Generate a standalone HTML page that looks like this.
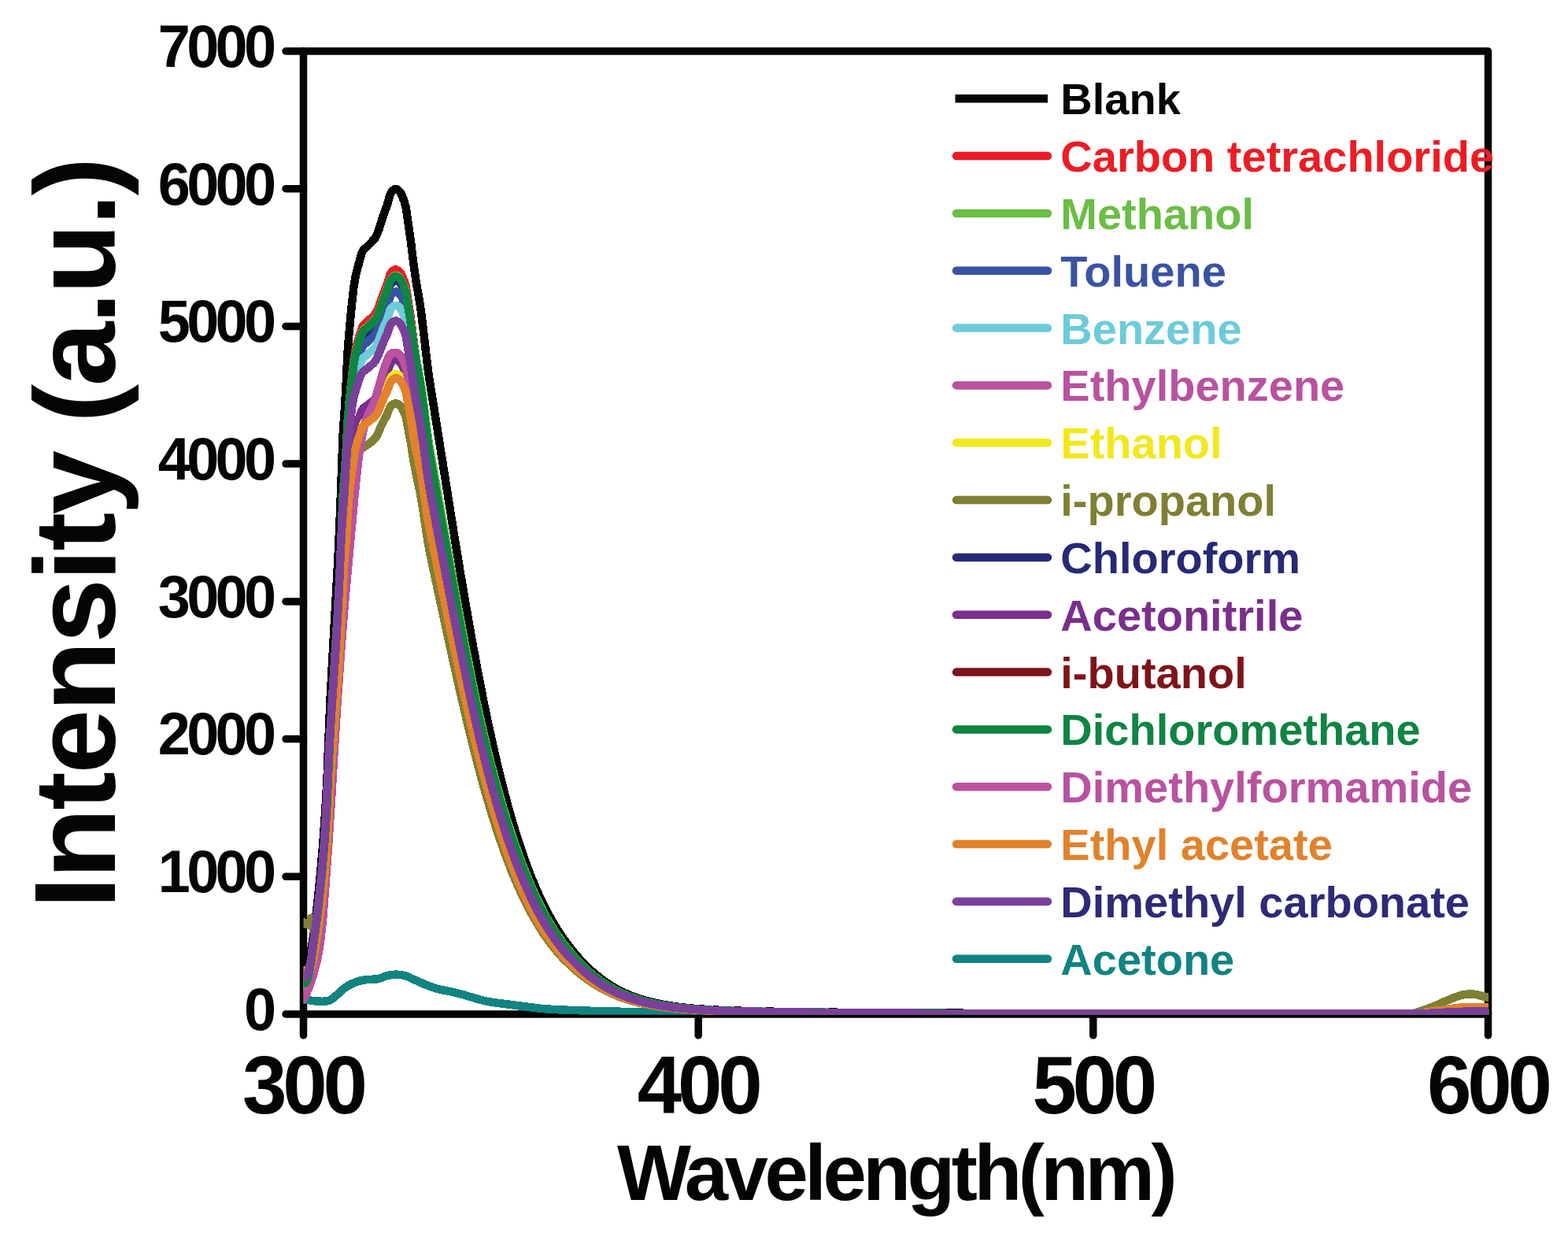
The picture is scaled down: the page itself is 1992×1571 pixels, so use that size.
<!DOCTYPE html>
<html><head><meta charset="utf-8"><title>Intensity vs Wavelength</title><style>
html,body{margin:0;padding:0;background:#fff;}
svg{display:block;}
text{font-family:"Liberation Sans",Arial,sans-serif;font-weight:bold;fill:#050505;}
.yl{font-size:76.5px;text-anchor:end;letter-spacing:-4.85px;}
.xl{font-size:104.5px;text-anchor:middle;letter-spacing:-5.45px;}
.lg{font-size:56px;}
</style></head><body>
<svg width="1992" height="1571" viewBox="0 0 1992 1571">
<rect width="1992" height="1571" fill="#fff"/>
<defs><clipPath id="pc"><rect x="385.5" y="65.0" width="1505.6" height="1223.8"/></clipPath></defs>
<g stroke="#050505" stroke-width="9.5" stroke-linecap="round">
<path d="M385.5,65.0 H1890.5 V1288.0 H385.5 Z" fill="none" stroke-linejoin="round"/>
<line x1="363" y1="1288.0" x2="385.5" y2="1288.0"/>
<line x1="363" y1="1113.3" x2="385.5" y2="1113.3"/>
<line x1="363" y1="938.6" x2="385.5" y2="938.6"/>
<line x1="363" y1="763.9" x2="385.5" y2="763.9"/>
<line x1="363" y1="589.1" x2="385.5" y2="589.1"/>
<line x1="363" y1="414.4" x2="385.5" y2="414.4"/>
<line x1="363" y1="239.7" x2="385.5" y2="239.7"/>
<line x1="363" y1="65.0" x2="385.5" y2="65.0"/>
<line x1="385.5" y1="1288.0" x2="385.5" y2="1315"/>
<line x1="887.2" y1="1288.0" x2="887.2" y2="1315"/>
<line x1="1388.8" y1="1288.0" x2="1388.8" y2="1315"/>
<line x1="1890.5" y1="1288.0" x2="1890.5" y2="1315"/>
</g>
<g clip-path="url(#pc)" shape-rendering="crispEdges" fill="none" stroke-width="10.5" stroke-linejoin="round" stroke-linecap="round">
<path d="M385.5,1256.0L387.5,1247.1 389.5,1237.4 391.5,1226.4 393.5,1215.3 395.5,1205.1 397.5,1193.4 399.5,1178.9 401.5,1162.6 403.5,1144.7 405.5,1125.3 407.5,1104.3 409.5,1081.2 411.5,1055.4 413.5,1026.3 415.5,989.5 417.5,937.0 419.5,889.7 421.5,851.9 423.5,816.3 425.5,780.3 427.5,745.3 429.5,708.1 431.5,663.8 433.5,613.1 435.5,554.0 437.5,525.1 439.5,491.7 441.5,448.6 443.5,423.2 445.5,401.3 447.5,381.4 449.5,363.6 451.5,352.0 453.5,343.8 455.5,336.0 457.5,328.4 459.5,321.7 461.5,317.8 463.5,315.8 465.5,314.0 467.5,312.0 469.5,310.1 471.5,308.0 473.5,305.9 475.5,303.6 477.5,300.7 479.5,296.6 481.5,291.1 483.5,284.4 485.5,278.1 487.5,272.2 489.5,266.7 491.5,261.6 493.5,254.7 495.5,247.3 497.5,243.7 499.5,241.5 501.5,240.3 503.5,240.1 505.5,241.1 507.5,242.9 509.5,245.9 511.5,250.3 513.5,255.8 515.5,262.7 517.5,275.5 519.5,290.3 521.5,303.5 523.5,319.8 525.5,335.7 527.5,350.0 529.5,362.9 531.5,374.1 533.5,386.0 535.5,400.2 537.5,416.1 539.5,433.7 541.5,450.9 543.5,467.5 545.5,481.9 547.5,494.5 549.5,506.7 551.5,519.2 553.5,531.7 555.5,544.2 557.5,556.7 559.5,569.4 560.0,572.5 565.0,604.2 570.0,635.8 575.0,667.1 580.0,698.0 585.0,728.4 590.0,758.1 595.0,787.0 600.0,815.1 605.0,842.4 610.0,868.6 615.0,893.8 620.0,917.9 625.0,940.9 630.0,962.9 635.0,983.8 640.0,1003.6 645.0,1022.4 650.0,1040.1 655.0,1056.8 660.0,1072.5 665.0,1087.3 670.0,1101.1 675.0,1114.0 680.0,1126.1 685.0,1137.4 690.0,1147.9 695.0,1157.7 700.0,1166.9 705.0,1175.5 710.0,1183.4 715.0,1191.1 720.0,1197.8 725.0,1204.3 730.0,1210.5 735.0,1216.4 740.0,1221.9 745.0,1226.9 750.0,1231.7 755.0,1236.1 760.0,1240.2 765.0,1244.1 770.0,1247.7 775.0,1251.0 780.0,1254.0 785.0,1256.8 790.0,1259.4 795.0,1261.7 800.0,1263.8 805.0,1265.8 810.0,1267.6 815.0,1269.2 820.0,1270.7 825.0,1272.0 830.0,1273.2 835.0,1274.3 840.0,1275.3 845.0,1276.2 850.0,1277.1 855.0,1277.8 860.0,1278.5 865.0,1279.1 870.0,1279.7 875.0,1280.2 880.0,1280.7 885.0,1281.1 890.0,1281.4 895.0,1281.8 900.0,1282.1 905.0,1282.4 910.0,1282.6 915.0,1282.9 920.0,1283.1 925.0,1283.2 930.0,1283.4 935.0,1283.6 940.0,1283.7 945.0,1283.9 950.0,1284.0 955.0,1284.1 960.0,1284.2 965.0,1284.4 970.0,1284.5 975.0,1284.6 980.0,1284.7 985.0,1284.8 990.0,1284.9 995.0,1284.9 1100.0,1286.2 1300.0,1287.1 1600.0,1287.4 1891.0,1287.5" stroke="#050505"/>
<path d="M385.5,1253.1L387.5,1253.1 389.5,1250.3 391.5,1244.0 393.5,1234.2 395.5,1221.8 397.5,1205.5 399.5,1193.0 401.5,1178.6 403.5,1162.9 405.5,1145.7 407.5,1127.1 409.5,1106.9 411.5,1084.2 413.5,1058.9 415.5,1028.1 417.5,983.8 419.5,937.9 421.5,902.7 423.5,870.4 425.5,837.9 427.5,806.2 429.5,773.5 431.5,735.5 433.5,690.8 435.5,638.1 437.5,605.3 439.5,578.7 441.5,540.2 443.5,512.2 445.5,492.9 447.5,474.0 449.5,457.3 451.5,445.1 453.5,437.6 455.5,430.4 457.5,423.4 459.5,417.2 461.5,413.0 463.5,411.0 465.5,409.4 467.5,407.6 469.5,405.8 471.5,404.0 473.5,402.0 475.5,400.0 477.5,397.4 479.5,393.9 481.5,389.0 483.5,382.9 485.5,377.2 487.5,371.8 489.5,366.7 491.5,362.1 493.5,356.0 495.5,349.0 497.5,345.7 499.5,343.8 501.5,342.6 503.5,342.4 505.5,343.4 507.5,344.9 509.5,347.7 511.5,351.7 513.5,356.6 515.5,362.8 517.5,374.7 519.5,388.6 521.5,401.3 523.5,417.0 525.5,432.5 527.5,446.7 529.5,459.6 531.5,471.2 533.5,483.4 535.5,497.7 537.5,513.4 539.5,530.6 541.5,547.3 543.5,563.4 545.5,577.4 547.5,589.7 549.5,601.6 551.5,613.5 553.5,625.1 555.5,636.6 557.5,648.0 559.5,659.2 560.0,662.0 565.0,689.7 570.0,717.3 575.0,744.7 580.0,771.7 585.0,798.3 590.0,824.4 595.0,849.7 600.0,874.2 605.0,897.9 610.0,920.3 615.0,941.6 620.0,961.8 625.0,981.1 630.0,999.5 635.0,1016.9 640.0,1033.5 645.0,1049.3 650.0,1064.3 655.0,1078.6 660.0,1092.1 665.0,1105.1 670.0,1117.3 675.0,1128.9 680.0,1139.9 685.0,1150.2 690.0,1159.8 695.0,1168.8 700.0,1177.2 705.0,1185.0 710.0,1192.3 715.0,1199.3 720.0,1205.5 725.0,1211.4 730.0,1217.1 735.0,1222.5 740.0,1227.5 745.0,1232.1 750.0,1236.5 755.0,1240.5 760.0,1244.3 765.0,1247.8 770.0,1251.1 775.0,1254.1 780.0,1256.9 785.0,1259.5 790.0,1261.8 795.0,1264.0 800.0,1265.9 805.0,1267.7 810.0,1269.3 815.0,1270.8 820.0,1272.2 825.0,1273.4 830.0,1274.5 835.0,1275.5 840.0,1276.4 845.0,1277.2 850.0,1278.0 855.0,1278.7 860.0,1279.3 865.0,1279.9 870.0,1280.4 875.0,1280.9 880.0,1281.3 885.0,1281.7 890.0,1282.0 895.0,1282.3 900.0,1282.6 905.0,1282.8 910.0,1283.1 915.0,1283.3 920.0,1283.5 925.0,1283.6 930.0,1283.8 935.0,1283.9 940.0,1284.1 945.0,1284.2 950.0,1284.3 955.0,1284.5 960.0,1284.6 965.0,1284.7 970.0,1284.8 975.0,1284.9 980.0,1285.0 985.0,1285.0 990.0,1285.1 995.0,1285.2 1100.0,1286.4 1300.0,1287.2 1600.0,1287.5 1891.0,1287.5" stroke="#ED1C24"/>
<path d="M385.5,1253.1L387.5,1252.8 389.5,1249.6 391.5,1243.0 393.5,1233.0 395.5,1220.3 397.5,1203.3 399.5,1190.3 401.5,1175.7 403.5,1159.7 405.5,1142.3 407.5,1123.5 409.5,1102.9 411.5,1079.8 413.5,1053.7 415.5,1020.8 417.5,973.7 419.5,931.4 421.5,897.6 423.5,865.6 425.5,833.4 427.5,802.1 429.5,768.8 431.5,729.2 433.5,683.7 435.5,630.9 437.5,604.9 439.5,575.0 441.5,536.5 443.5,513.7 445.5,494.1 447.5,476.3 449.5,460.4 451.5,450.0 453.5,442.6 455.5,435.6 457.5,428.9 459.5,422.9 461.5,419.4 463.5,417.5 465.5,415.9 467.5,414.2 469.5,412.4 471.5,410.6 473.5,408.7 475.5,406.6 477.5,404.0 479.5,400.4 481.5,395.5 483.5,389.4 485.5,383.8 487.5,378.5 489.5,373.6 491.5,369.0 493.5,362.9 495.5,356.2 497.5,353.0 499.5,351.1 501.5,349.9 503.5,349.8 505.5,350.7 507.5,352.2 509.5,355.0 511.5,358.9 513.5,363.9 515.5,370.0 517.5,381.5 519.5,394.8 521.5,406.6 523.5,421.2 525.5,435.5 527.5,448.3 529.5,459.8 531.5,469.8 533.5,480.5 535.5,493.3 537.5,507.5 539.5,523.3 541.5,538.7 543.5,553.5 545.5,566.5 547.5,577.7 549.5,588.7 551.5,599.9 553.5,611.1 555.5,622.3 557.5,633.5 559.5,644.8 560.0,647.7 565.0,676.0 570.0,704.3 575.0,732.3 580.0,759.9 585.0,787.2 590.0,813.8 595.0,839.6 600.0,864.8 605.0,889.0 610.0,911.9 615.0,933.7 620.0,954.4 625.0,974.2 630.0,993.0 635.0,1010.8 640.0,1027.8 645.0,1044.0 650.0,1059.4 655.0,1073.9 660.0,1087.8 665.0,1101.1 670.0,1113.6 675.0,1125.4 680.0,1136.6 685.0,1147.2 690.0,1157.0 695.0,1166.2 700.0,1174.8 705.0,1182.8 710.0,1190.2 715.0,1197.4 720.0,1203.7 725.0,1209.7 730.0,1215.6 735.0,1221.1 740.0,1226.2 745.0,1230.9 750.0,1235.3 755.0,1239.5 760.0,1243.3 765.0,1246.9 770.0,1250.3 775.0,1253.4 780.0,1256.2 785.0,1258.9 790.0,1261.3 795.0,1263.4 800.0,1265.4 805.0,1267.2 810.0,1268.9 815.0,1270.4 820.0,1271.8 825.0,1273.1 830.0,1274.2 835.0,1275.2 840.0,1276.2 845.0,1277.0 850.0,1277.8 855.0,1278.5 860.0,1279.1 865.0,1279.7 870.0,1280.2 875.0,1280.7 880.0,1281.1 885.0,1281.5 890.0,1281.9 895.0,1282.2 900.0,1282.5 905.0,1282.7 910.0,1283.0 915.0,1283.2 920.0,1283.4 925.0,1283.6 930.0,1283.7 935.0,1283.8 940.0,1284.0 945.0,1284.1 950.0,1284.3 955.0,1284.4 960.0,1284.5 965.0,1284.6 970.0,1284.7 975.0,1284.8 980.0,1284.9 985.0,1285.0 990.0,1285.1 995.0,1285.1 1100.0,1286.3 1300.0,1287.2 1600.0,1287.4 1891.0,1287.5" stroke="#6ABD45"/>
<path d="M385.5,1249.6L387.5,1249.9 389.5,1247.4 391.5,1241.4 393.5,1232.1 395.5,1220.1 397.5,1203.9 399.5,1190.9 401.5,1176.4 403.5,1160.6 405.5,1143.3 407.5,1124.6 409.5,1104.1 411.5,1081.1 413.5,1055.2 415.5,1022.5 417.5,975.8 419.5,933.7 421.5,900.1 423.5,868.4 425.5,836.4 427.5,805.2 429.5,772.2 431.5,732.8 433.5,687.6 435.5,635.2 437.5,609.4 439.5,579.7 441.5,541.4 443.5,518.8 445.5,499.3 447.5,481.6 449.5,465.8 451.5,455.4 453.5,448.1 455.5,441.2 457.5,434.5 459.5,428.5 461.5,425.0 463.5,423.2 465.5,421.6 467.5,419.9 469.5,418.1 471.5,416.3 473.5,414.4 475.5,412.3 477.5,409.8 479.5,406.2 481.5,401.3 483.5,395.3 485.5,389.7 487.5,384.5 489.5,379.5 491.5,375.0 493.5,368.9 495.5,362.3 497.5,359.1 499.5,357.2 501.5,356.0 503.5,355.9 505.5,356.8 507.5,358.3 509.5,361.1 511.5,365.0 513.5,369.9 515.5,376.0 517.5,387.5 519.5,400.9 521.5,412.9 523.5,427.7 525.5,442.3 527.5,455.4 529.5,467.3 531.5,477.8 533.5,488.9 535.5,502.1 537.5,516.7 539.5,532.8 541.5,548.5 543.5,563.6 545.5,576.8 547.5,588.3 549.5,599.5 551.5,610.8 553.5,622.1 555.5,633.2 557.5,644.4 559.5,655.6 560.0,658.4 565.0,686.3 570.0,714.1 575.0,741.6 580.0,768.8 585.0,795.6 590.0,821.7 595.0,847.2 600.0,871.9 605.0,895.8 610.0,918.9 615.0,941.1 620.0,962.3 625.0,982.6 630.0,1002.0 635.0,1020.3 640.0,1037.7 645.0,1054.2 650.0,1069.8 655.0,1084.5 660.0,1098.3 665.0,1111.4 670.0,1123.5 675.0,1134.9 680.0,1145.5 685.0,1155.5 690.0,1164.7 695.0,1173.3 700.0,1181.4 705.0,1189.0 710.0,1196.0 715.0,1202.7 720.0,1208.6 725.0,1214.3 730.0,1219.8 735.0,1225.0 740.0,1229.8 745.0,1234.3 750.0,1238.4 755.0,1242.3 760.0,1246.0 765.0,1249.4 770.0,1252.5 775.0,1255.4 780.0,1258.1 785.0,1260.6 790.0,1262.8 795.0,1264.9 800.0,1266.7 805.0,1268.4 810.0,1270.0 815.0,1271.4 820.0,1272.8 825.0,1273.9 830.0,1275.0 835.0,1276.0 840.0,1276.9 845.0,1277.6 850.0,1278.4 855.0,1279.0 860.0,1279.6 865.0,1280.2 870.0,1280.7 875.0,1281.1 880.0,1281.5 885.0,1281.9 890.0,1282.2 895.0,1282.5 900.0,1282.8 905.0,1283.0 910.0,1283.3 915.0,1283.5 920.0,1283.7 925.0,1283.8 930.0,1284.0 935.0,1284.1 940.0,1284.2 945.0,1284.4 950.0,1284.5 955.0,1284.6 960.0,1284.7 965.0,1284.8 970.0,1284.9 975.0,1285.0 980.0,1285.1 985.0,1285.2 990.0,1285.2 995.0,1285.3 1100.0,1286.4 1300.0,1287.2 1600.0,1287.5 1891.0,1287.6" stroke="#262A76"/>
<path d="M385.5,1253.1L387.5,1252.9 389.5,1249.9 391.5,1243.6 393.5,1233.9 395.5,1221.7 397.5,1205.2 399.5,1192.4 401.5,1178.2 403.5,1162.6 405.5,1145.5 407.5,1127.2 409.5,1107.0 411.5,1084.4 413.5,1058.9 415.5,1026.7 417.5,980.7 419.5,939.3 421.5,906.2 423.5,875.0 425.5,843.5 427.5,812.8 429.5,780.3 431.5,741.6 433.5,697.1 435.5,645.4 437.5,620.1 439.5,590.8 441.5,553.1 443.5,530.9 445.5,511.7 447.5,494.2 449.5,478.7 451.5,468.6 453.5,461.4 455.5,454.5 457.5,447.9 459.5,442.0 461.5,438.6 463.5,436.8 465.5,435.2 467.5,433.5 469.5,431.8 471.5,430.0 473.5,428.1 475.5,426.1 477.5,423.6 479.5,420.1 481.5,415.2 483.5,409.4 485.5,403.8 487.5,398.7 489.5,393.8 491.5,389.4 493.5,383.4 495.5,376.8 497.5,373.7 499.5,371.8 501.5,370.7 503.5,370.5 505.5,371.5 507.5,373.0 509.5,375.7 511.5,379.5 513.5,384.3 515.5,390.3 517.5,401.6 519.5,414.7 521.5,426.4 523.5,440.9 525.5,455.1 527.5,467.8 529.5,479.3 531.5,489.5 533.5,500.1 535.5,512.9 537.5,527.1 539.5,542.8 541.5,558.1 543.5,572.8 545.5,585.6 547.5,596.8 549.5,607.7 551.5,618.8 553.5,629.8 555.5,640.8 557.5,651.8 559.5,662.8 560.0,665.6 565.0,693.1 570.0,720.6 575.0,747.8 580.0,774.7 585.0,801.1 590.0,827.0 595.0,852.2 600.0,876.6 605.0,900.3 610.0,923.1 615.0,945.0 620.0,966.0 625.0,986.1 630.0,1005.2 635.0,1023.3 640.0,1040.6 645.0,1056.9 650.0,1072.3 655.0,1086.8 660.0,1100.5 665.0,1113.4 670.0,1125.4 675.0,1136.6 680.0,1147.1 685.0,1157.0 690.0,1166.1 695.0,1174.6 700.0,1182.6 705.0,1190.1 710.0,1197.0 715.0,1203.7 720.0,1209.5 725.0,1215.1 730.0,1220.6 735.0,1225.7 740.0,1230.5 745.0,1234.9 750.0,1239.0 755.0,1242.8 760.0,1246.4 765.0,1249.8 770.0,1252.9 775.0,1255.8 780.0,1258.4 785.0,1260.9 790.0,1263.1 795.0,1265.1 800.0,1267.0 805.0,1268.7 810.0,1270.2 815.0,1271.6 820.0,1272.9 825.0,1274.1 830.0,1275.2 835.0,1276.1 840.0,1277.0 845.0,1277.8 850.0,1278.5 855.0,1279.1 860.0,1279.7 865.0,1280.3 870.0,1280.8 875.0,1281.2 880.0,1281.6 885.0,1282.0 890.0,1282.3 895.0,1282.6 900.0,1282.9 905.0,1283.1 910.0,1283.3 915.0,1283.5 920.0,1283.7 925.0,1283.9 930.0,1284.0 935.0,1284.1 940.0,1284.3 945.0,1284.4 950.0,1284.5 955.0,1284.6 960.0,1284.7 965.0,1284.8 970.0,1284.9 975.0,1285.0 980.0,1285.1 985.0,1285.2 990.0,1285.3 995.0,1285.3 1100.0,1286.4 1300.0,1287.3 1600.0,1287.5 1891.0,1287.6" stroke="#3953A4"/>
<path d="M385.5,1253.1L387.5,1253.0 389.5,1250.2 391.5,1244.1 393.5,1234.7 395.5,1222.8 397.5,1206.8 399.5,1194.2 401.5,1180.3 403.5,1164.9 405.5,1148.2 407.5,1130.2 409.5,1110.4 411.5,1088.2 413.5,1063.2 415.5,1031.6 417.5,986.5 419.5,945.8 421.5,913.4 423.5,882.8 425.5,851.9 427.5,821.8 429.5,789.9 431.5,751.8 433.5,708.2 435.5,657.5 437.5,632.6 439.5,604.0 441.5,567.0 443.5,545.1 445.5,526.3 447.5,509.2 449.5,494.0 451.5,484.0 453.5,476.9 455.5,470.2 457.5,463.7 459.5,458.0 461.5,454.6 463.5,452.9 465.5,451.3 467.5,449.6 469.5,448.0 471.5,446.2 473.5,444.4 475.5,442.4 477.5,439.9 479.5,436.4 481.5,431.7 483.5,425.9 485.5,420.5 487.5,415.4 489.5,410.7 491.5,406.3 493.5,400.4 495.5,394.0 497.5,390.9 499.5,389.1 501.5,388.0 503.5,387.8 505.5,388.7 507.5,390.2 509.5,392.9 511.5,396.6 513.5,401.4 515.5,407.2 517.5,418.2 519.5,431.0 521.5,442.3 523.5,456.2 525.5,469.9 527.5,482.1 529.5,493.1 531.5,502.7 533.5,512.8 535.5,525.0 537.5,538.6 539.5,553.7 541.5,568.4 543.5,582.6 545.5,594.9 547.5,605.7 549.5,616.2 551.5,626.9 553.5,637.6 555.5,648.3 557.5,659.1 559.5,670.0 560.0,672.7 565.0,699.9 570.0,727.1 575.0,754.0 580.0,780.6 585.0,806.7 590.0,832.3 595.0,857.2 600.0,881.3 605.0,904.8 610.0,927.3 615.0,949.0 620.0,969.7 625.0,989.5 630.0,1008.5 635.0,1026.4 640.0,1043.4 645.0,1059.6 650.0,1074.8 655.0,1089.1 660.0,1102.7 665.0,1115.4 670.0,1127.3 675.0,1138.4 680.0,1148.8 685.0,1158.5 690.0,1167.5 695.0,1176.0 700.0,1183.9 705.0,1191.2 710.0,1198.1 715.0,1204.7 720.0,1210.4 725.0,1216.0 730.0,1221.4 735.0,1226.5 740.0,1231.1 745.0,1235.5 750.0,1239.6 755.0,1243.4 760.0,1246.9 765.0,1250.2 770.0,1253.3 775.0,1256.2 780.0,1258.8 785.0,1261.2 790.0,1263.4 795.0,1265.4 800.0,1267.2 805.0,1268.9 810.0,1270.4 815.0,1271.8 820.0,1273.1 825.0,1274.3 830.0,1275.3 835.0,1276.3 840.0,1277.1 845.0,1277.9 850.0,1278.6 855.0,1279.2 860.0,1279.8 865.0,1280.4 870.0,1280.9 875.0,1281.3 880.0,1281.7 885.0,1282.0 890.0,1282.4 895.0,1282.7 900.0,1282.9 905.0,1283.2 910.0,1283.4 915.0,1283.6 920.0,1283.8 925.0,1283.9 930.0,1284.0 935.0,1284.2 940.0,1284.3 945.0,1284.4 950.0,1284.6 955.0,1284.7 960.0,1284.8 965.0,1284.9 970.0,1285.0 975.0,1285.1 980.0,1285.1 985.0,1285.2 990.0,1285.3 995.0,1285.4 1100.0,1286.5 1300.0,1287.3 1600.0,1287.5 1891.0,1287.6" stroke="#6DCBD9"/>
<path d="M385.5,1270.0L385.9,1270.0 386.3,1269.9 386.8,1269.8 387.5,1269.7 388.5,1269.7 389.6,1269.8 391.0,1270.0 392.7,1270.3 394.5,1270.6 396.5,1270.9 398.7,1271.2 400.9,1271.4 403.4,1271.5 406.1,1271.7 409.0,1271.8 411.8,1271.7 414.5,1271.5 417.0,1271.0 419.2,1270.2 421.1,1269.1 422.9,1267.8 424.6,1266.4 426.4,1264.9 428.2,1263.4 430.0,1261.9 431.9,1260.2 433.7,1258.5 435.5,1256.8 437.4,1255.2 439.4,1253.7 441.5,1252.4 443.6,1251.2 445.8,1250.1 447.9,1249.1 450.1,1248.1 452.3,1247.3 454.4,1246.6 456.5,1245.9 458.6,1245.4 460.7,1244.9 462.9,1244.5 465.1,1244.1 467.4,1243.9 469.9,1243.8 472.4,1243.8 474.8,1243.7 477.3,1243.6 479.6,1243.3 481.8,1242.8 484.0,1242.0 486.2,1241.2 488.3,1240.3 490.4,1239.6 492.4,1239.0 494.4,1238.6 496.3,1238.2 498.1,1238.0 500.0,1237.8 501.8,1237.7 503.7,1237.7 505.6,1237.8 507.4,1237.9 509.2,1238.1 511.0,1238.4 512.9,1238.8 514.9,1239.3 517.0,1240.0 519.1,1240.9 521.2,1241.8 523.4,1242.9 525.6,1243.9 527.8,1244.9 529.9,1245.8 532.0,1246.8 534.0,1247.7 536.1,1248.6 538.3,1249.6 540.6,1250.5 543.1,1251.5 545.7,1252.5 548.4,1253.4 551.2,1254.4 554.0,1255.3 556.7,1256.1 559.4,1256.8 562.1,1257.3 564.8,1257.9 567.4,1258.3 570.1,1258.8 572.8,1259.4 575.5,1260.0 578.1,1260.7 580.8,1261.3 583.5,1262.0 586.1,1262.7 588.8,1263.4 591.5,1264.2 594.2,1265.0 596.8,1265.8 599.5,1266.6 602.2,1267.4 604.9,1268.2 607.5,1268.9 610.0,1269.6 612.5,1270.3 615.0,1271.0 617.9,1271.6 621.0,1272.2 624.5,1272.8 628.4,1273.3 632.5,1273.9 636.7,1274.4 640.9,1274.9 645.0,1275.4 648.9,1275.9 652.8,1276.5 656.7,1277.0 660.6,1277.5 664.8,1278.1 669.2,1278.6 673.6,1279.1 677.9,1279.7 682.4,1280.3 687.3,1280.8 693.1,1281.3 700.0,1281.8 708.0,1282.2 716.7,1282.6 726.3,1283.0 736.7,1283.3 747.9,1283.7 760.0,1284.0 772.6,1284.4 785.6,1284.7 799.4,1285.1 814.4,1285.4 831.2,1285.7 850.0,1286.0 862.9,1286.3 868.1,1286.5 874.9,1286.8 892.8,1287.0 931.4,1287.2 1000.0,1287.3 1116.1,1287.4 1275.4,1287.5 1455.4,1287.5 1633.3,1287.5 1786.4,1287.5 1892.0,1287.5" stroke="#118481"/>
<path d="M385.5,1232.1L387.5,1236.7 389.5,1239.0 391.5,1238.5 393.5,1234.8 395.5,1228.7 397.5,1219.9 399.5,1209.7 401.5,1197.7 403.5,1184.6 405.5,1170.2 407.5,1154.7 409.5,1137.8 411.5,1118.9 413.5,1098.0 415.5,1073.2 417.5,1038.7 419.5,997.6 421.5,966.0 423.5,938.1 425.5,910.4 427.5,883.2 429.5,855.7 431.5,824.8 433.5,787.7 435.5,746.6 437.5,709.8 439.5,689.1 441.5,657.5 443.5,629.3 445.5,613.0 447.5,596.2 449.5,581.5 451.5,569.7 453.5,562.9 455.5,556.6 457.5,550.6 459.5,545.1 461.5,540.9 463.5,539.1 465.5,537.7 467.5,536.1 469.5,534.6 471.5,533.0 473.5,531.4 475.5,529.6 477.5,527.5 479.5,524.5 481.5,520.5 483.5,515.2 485.5,510.2 487.5,505.6 489.5,501.2 491.5,497.2 493.5,492.0 495.5,486.0 497.5,483.1 499.5,481.4 501.5,480.4 503.5,480.2 505.5,481.0 507.5,482.4 509.5,484.7 511.5,488.1 513.5,492.4 515.5,497.6 517.5,507.6 519.5,519.2 521.5,529.5 523.5,542.2 525.5,554.8 527.5,566.1 529.5,576.2 531.5,585.2 533.5,594.7 535.5,606.0 537.5,618.5 539.5,632.4 541.5,645.8 543.5,658.9 545.5,670.2 547.5,680.1 549.5,689.7 551.5,699.5 553.5,709.2 555.5,718.9 557.5,728.6 559.5,738.3 560.0,740.7 565.0,764.9 570.0,789.1 575.0,813.0 580.0,836.6 585.0,859.9 590.0,882.6 595.0,904.8 600.0,926.3 605.0,947.1 610.0,967.2 615.0,986.4 620.0,1004.8 625.0,1022.5 630.0,1039.3 635.0,1055.3 640.0,1070.4 645.0,1084.8 650.0,1098.4 655.0,1111.1 660.0,1123.1 665.0,1134.4 670.0,1145.0 675.0,1154.9 680.0,1164.1 685.0,1172.8 690.0,1180.8 695.0,1188.3 700.0,1195.4 705.0,1201.9 710.0,1208.0 715.0,1213.9 720.0,1219.0 725.0,1223.9 730.0,1228.7 735.0,1233.3 740.0,1237.4 745.0,1241.3 750.0,1244.9 755.0,1248.3 760.0,1251.5 765.0,1254.4 770.0,1257.1 775.0,1259.7 780.0,1262.0 785.0,1264.2 790.0,1266.1 795.0,1267.9 800.0,1269.5 805.0,1271.0 810.0,1272.4 815.0,1273.6 820.0,1274.7 825.0,1275.8 830.0,1276.7 835.0,1277.6 840.0,1278.3 845.0,1279.0 850.0,1279.6 855.0,1280.2 860.0,1280.7 865.0,1281.2 870.0,1281.6 875.0,1282.0 880.0,1282.4 885.0,1282.7 890.0,1283.0 895.0,1283.2 900.0,1283.5 905.0,1283.7 910.0,1283.9 915.0,1284.1 920.0,1284.2 925.0,1284.4 930.0,1284.5 935.0,1284.6 940.0,1284.7 945.0,1284.8 950.0,1284.9 955.0,1285.0 960.0,1285.1 965.0,1285.2 970.0,1285.3 975.0,1285.4 980.0,1285.5 985.0,1285.5 990.0,1285.6 995.0,1285.6 1100.0,1286.6 1300.0,1287.3 1600.0,1287.5 1891.0,1287.6" stroke="#7F1418"/>
<path d="M385.5,1244.3L387.5,1246.2 389.5,1245.5 391.5,1241.7 393.5,1235.0 395.5,1225.9 397.5,1213.0 399.5,1201.4 401.5,1188.5 403.5,1174.4 405.5,1159.0 407.5,1142.3 409.5,1124.0 411.5,1103.6 413.5,1080.5 415.5,1051.3 417.5,1009.7 419.5,972.1 421.5,942.2 423.5,913.9 425.5,885.4 427.5,857.6 429.5,828.2 431.5,793.0 433.5,752.8 435.5,706.0 437.5,683.0 439.5,656.5 441.5,622.4 443.5,602.2 445.5,584.9 447.5,569.0 449.5,555.0 451.5,545.8 453.5,539.2 455.5,533.1 457.5,527.1 459.5,521.8 461.5,518.6 463.5,517.0 465.5,515.6 467.5,514.1 469.5,512.5 471.5,510.9 473.5,509.2 475.5,507.3 477.5,505.1 479.5,501.8 481.5,497.5 483.5,492.1 485.5,487.2 487.5,482.5 489.5,478.1 491.5,474.1 493.5,468.6 495.5,462.7 497.5,459.9 499.5,458.1 501.5,457.2 503.5,457.0 505.5,457.8 507.5,459.2 509.5,461.6 511.5,465.1 513.5,469.5 515.5,474.9 517.5,485.1 519.5,496.9 521.5,507.5 523.5,520.5 525.5,533.3 527.5,544.8 529.5,555.1 531.5,564.1 533.5,573.7 535.5,585.2 537.5,597.9 539.5,612.0 541.5,625.8 543.5,639.1 545.5,650.6 547.5,660.7 549.5,670.5 551.5,680.4 553.5,690.4 555.5,700.3 557.5,710.3 559.5,720.3 560.0,722.8 565.0,747.8 570.0,772.8 575.0,797.5 580.0,821.9 585.0,845.9 590.0,869.4 595.0,892.2 600.0,914.4 605.0,935.9 610.0,956.7 615.0,976.6 620.0,995.6 625.0,1013.8 630.0,1031.2 635.0,1047.7 640.0,1063.3 645.0,1078.2 650.0,1092.2 655.0,1105.3 660.0,1117.7 665.0,1129.4 670.0,1140.3 675.0,1150.6 680.0,1160.1 685.0,1169.0 690.0,1177.3 695.0,1185.1 700.0,1192.3 705.0,1199.1 710.0,1205.4 715.0,1211.5 720.0,1216.8 725.0,1221.8 730.0,1226.8 735.0,1231.5 740.0,1235.8 745.0,1239.7 750.0,1243.5 755.0,1247.0 760.0,1250.3 765.0,1253.3 770.0,1256.1 775.0,1258.7 780.0,1261.2 785.0,1263.4 790.0,1265.4 795.0,1267.2 800.0,1268.9 805.0,1270.4 810.0,1271.9 815.0,1273.1 820.0,1274.3 825.0,1275.4 830.0,1276.3 835.0,1277.2 840.0,1278.0 845.0,1278.7 850.0,1279.4 855.0,1280.0 860.0,1280.5 865.0,1281.0 870.0,1281.4 875.0,1281.8 880.0,1282.2 885.0,1282.5 890.0,1282.8 895.0,1283.1 900.0,1283.3 905.0,1283.5 910.0,1283.8 915.0,1283.9 920.0,1284.1 925.0,1284.2 930.0,1284.4 935.0,1284.5 940.0,1284.6 945.0,1284.7 950.0,1284.8 955.0,1284.9 960.0,1285.0 965.0,1285.1 970.0,1285.2 975.0,1285.3 980.0,1285.4 985.0,1285.4 990.0,1285.5 995.0,1285.6 1100.0,1286.6 1300.0,1287.3 1600.0,1287.5 1891.0,1287.6" stroke="#7B2E8C"/>
<path d="M385.5,1244.3L387.5,1247.5 389.5,1249.5 391.5,1248.5 393.5,1244.5 395.5,1237.3 397.5,1227.6 399.5,1219.4 401.5,1209.2 403.5,1197.1 405.5,1183.9 407.5,1169.4 409.5,1153.8 411.5,1136.8 413.5,1117.7 415.5,1096.7 417.5,1071.8 419.5,1037.1 421.5,995.6 423.5,963.8 425.5,935.7 427.5,907.9 429.5,880.4 431.5,852.8 433.5,821.7 435.5,784.4 437.5,743.0 439.5,705.9 441.5,685.0 443.5,653.2 445.5,624.7 447.5,607.4 449.5,590.2 451.5,575.0 453.5,563.5 455.5,556.7 457.5,550.3 459.5,544.1 461.5,538.5 463.5,535.2 465.5,533.5 467.5,532.0 469.5,530.4 471.5,528.8 473.5,527.1 475.5,525.4 477.5,523.4 479.5,520.7 481.5,517.0 483.5,511.7 485.5,506.5 487.5,501.5 489.5,496.9 491.5,492.7 493.5,487.7 495.5,481.2 497.5,477.9 499.5,476.1 501.5,475.0 503.5,474.8 505.5,475.6 507.5,477.0 509.5,479.3 511.5,482.8 513.5,487.0 515.5,492.3 517.5,502.4 519.5,514.0 521.5,524.4 523.5,537.2 525.5,549.9 527.5,561.3 529.5,571.5 531.5,580.5 533.5,590.1 535.5,601.4 537.5,614.1 539.5,628.0 541.5,641.6 543.5,654.7 545.5,666.1 547.5,676.1 549.5,685.8 551.5,695.6 553.5,705.4 555.5,715.1 557.5,724.9 559.5,734.7 560.0,737.1 565.0,761.5 570.0,785.8 575.0,809.9 580.0,833.7 585.0,857.1 590.0,880.0 595.0,902.3 600.0,923.9 605.0,944.9 610.0,965.1 615.0,984.5 620.0,1003.0 625.0,1020.8 630.0,1037.7 635.0,1053.8 640.0,1069.0 645.0,1083.5 650.0,1097.1 655.0,1110.0 660.0,1122.1 665.0,1133.4 670.0,1144.1 675.0,1154.0 680.0,1163.3 685.0,1172.0 690.0,1180.1 695.0,1187.7 700.0,1194.8 705.0,1201.3 710.0,1207.5 715.0,1213.4 720.0,1218.6 725.0,1223.5 730.0,1228.3 735.0,1232.9 740.0,1237.1 745.0,1241.0 750.0,1244.6 755.0,1248.0 760.0,1251.2 765.0,1254.2 770.0,1256.9 775.0,1259.5 780.0,1261.8 785.0,1264.0 790.0,1266.0 795.0,1267.8 800.0,1269.4 805.0,1270.9 810.0,1272.3 815.0,1273.5 820.0,1274.7 825.0,1275.7 830.0,1276.6 835.0,1277.5 840.0,1278.2 845.0,1278.9 850.0,1279.6 855.0,1280.2 860.0,1280.7 865.0,1281.2 870.0,1281.6 875.0,1282.0 880.0,1282.3 885.0,1282.7 890.0,1283.0 895.0,1283.2 900.0,1283.4 905.0,1283.7 910.0,1283.9 915.0,1284.0 920.0,1284.2 925.0,1284.3 930.0,1284.5 935.0,1284.6 940.0,1284.7 945.0,1284.8 950.0,1284.9 955.0,1285.0 960.0,1285.1 965.0,1285.2 970.0,1285.3 975.0,1285.4 980.0,1285.4 985.0,1285.5 990.0,1285.6 995.0,1285.6 1100.0,1286.6 1300.0,1287.3 1600.0,1287.5 1891.0,1287.6" stroke="#F1E81C"/>
<path d="M385.5,1170.9L389.0,1173.6 392.5,1174.4 395.5,1165.7 399.5,1188.7 401.5,1174.9 403.5,1160.0 405.5,1143.7 407.5,1125.6 409.5,1105.5 411.5,1081.8 413.5,1048.7 415.5,1009.1 417.5,978.8 419.5,952.0 421.5,925.4 423.5,899.3 425.5,872.9 427.5,843.2 429.5,807.6 431.5,768.1 433.5,732.8 435.5,712.9 437.5,682.5 439.5,655.5 441.5,639.9 443.5,624.1 445.5,610.3 447.5,599.3 449.5,593.0 451.5,587.2 453.5,581.8 455.5,576.6 457.5,572.1 459.5,569.7 461.5,568.3 463.5,567.0 465.5,565.7 467.5,564.3 469.5,562.9 471.5,561.4 473.5,559.8 475.5,557.9 477.5,555.4 479.5,552.0 481.5,547.3 483.5,542.8 485.5,538.5 487.5,534.5 489.5,530.8 491.5,527.1 493.5,521.7 495.5,517.0 497.5,514.8 499.5,513.3 501.5,512.5 503.5,512.4 505.5,513.1 507.5,514.4 509.5,516.7 511.5,520.0 513.5,524.0 515.5,529.1 517.5,538.7 519.5,549.9 521.5,560.1 523.5,572.5 525.5,584.9 527.5,596.0 529.5,606.1 531.5,615.0 533.5,624.5 535.5,635.7 537.5,648.1 539.5,661.7 541.5,674.9 543.5,687.7 545.5,698.8 547.5,708.6 549.5,718.0 551.5,727.5 553.5,736.9 555.5,746.3 557.5,755.6 559.5,764.8 560.0,767.1 565.0,790.2 570.0,813.2 575.0,836.0 580.0,858.5 585.0,880.6 590.0,902.3 595.0,923.3 600.0,943.8 605.0,963.5 610.0,982.5 615.0,1000.7 620.0,1018.1 625.0,1034.7 630.0,1050.5 635.0,1065.5 640.0,1079.8 645.0,1093.4 650.0,1106.2 655.0,1118.2 660.0,1129.6 665.0,1140.4 670.0,1150.5 675.0,1160.0 680.0,1168.8 685.0,1177.1 690.0,1184.9 695.0,1192.1 700.0,1198.9 705.0,1205.2 710.0,1211.0 715.0,1216.7 720.0,1221.6 725.0,1226.4 730.0,1231.0 735.0,1235.3 740.0,1239.3 745.0,1243.0 750.0,1246.5 755.0,1249.8 760.0,1252.8 765.0,1255.7 770.0,1258.3 775.0,1260.7 780.0,1263.0 785.0,1265.1 790.0,1267.0 795.0,1268.7 800.0,1270.2 805.0,1271.6 810.0,1273.0 815.0,1274.2 820.0,1275.3 825.0,1276.2 830.0,1277.1 835.0,1278.0 840.0,1278.7 845.0,1279.3 850.0,1279.9 855.0,1280.5 860.0,1281.0 865.0,1281.5 870.0,1281.9 875.0,1282.3 880.0,1282.6 885.0,1282.9 890.0,1283.2 895.0,1283.4 900.0,1283.6 905.0,1283.9 910.0,1284.0 915.0,1284.2 920.0,1284.4 925.0,1284.5 930.0,1284.6 935.0,1284.7 940.0,1284.8 945.0,1285.0 950.0,1285.1 955.0,1285.2 960.0,1285.2 965.0,1285.3 970.0,1285.4 975.0,1285.5 980.0,1285.6 985.0,1285.6 990.0,1285.7 995.0,1285.7 1100.0,1286.7 1300.0,1287.4 1600.0,1287.6 1790.0,1287.5 1796.1,1287.4 1798.8,1287.2 1799.3,1287.0 1798.7,1286.8 1798.2,1286.5 1799.0,1286.0 1801.0,1285.4 1803.3,1284.7 1805.7,1283.8 1808.1,1283.0 1810.5,1282.1 1812.7,1281.3 1814.7,1280.6 1816.6,1279.9 1818.5,1279.2 1820.3,1278.5 1822.1,1277.8 1824.0,1277.0 1825.9,1276.2 1827.8,1275.4 1829.7,1274.5 1831.5,1273.7 1833.4,1272.8 1835.3,1272.0 1837.2,1271.2 1839.1,1270.4 1841.0,1269.6 1842.8,1268.8 1844.7,1268.0 1846.6,1267.3 1848.5,1266.6 1850.4,1265.9 1852.4,1265.2 1854.3,1264.5 1856.1,1264.0 1857.9,1263.5 1859.6,1263.2 1861.1,1262.9 1862.7,1262.8 1864.1,1262.7 1865.6,1262.6 1867.0,1262.6 1868.4,1262.6 1869.7,1262.6 1871.1,1262.6 1872.4,1262.7 1873.7,1262.8 1875.0,1263.0 1876.3,1263.2 1877.6,1263.5 1878.9,1263.9 1880.2,1264.3 1881.6,1264.6 1883.0,1265.0 1884.7,1265.4 1886.6,1265.8 1888.5,1266.3 1890.3,1266.7 1891.9,1267.0 1893.0,1267.3" stroke="#7F8033"/>
<path d="M385.5,1269.0L385.9,1268.3 386.4,1267.3 387.0,1266.1 387.6,1264.8 388.3,1263.4 389.0,1262.0 389.7,1260.6 390.3,1259.1 391.0,1257.6 391.8,1255.9 392.5,1254.0 393.3,1252.0 394.1,1249.8 394.9,1247.4 395.8,1244.9 396.7,1242.2 397.6,1239.2 398.5,1236.0 399.5,1232.5 400.5,1228.8 401.5,1224.8 402.6,1220.6 403.6,1216.2 404.5,1211.5 405.3,1206.6 406.1,1201.5 406.9,1196.2 407.6,1190.6 408.3,1184.5 409.0,1178.0 409.7,1171.4 410.3,1165.0 410.8,1158.2 411.5,1150.4 412.2,1141.2 413.0,1130.0 414.0,1116.7 415.1,1101.6 416.2,1085.1 417.5,1067.5 418.7,1049.0 420.0,1030.0 421.3,1009.8 422.6,988.1 423.9,965.6 425.3,943.0 426.7,920.9 428.0,900.0 429.3,880.3 430.7,861.1 432.0,842.5 433.3,824.4 434.7,806.9 436.0,790.0 437.3,774.0 438.6,758.9 439.9,744.4 441.2,730.0 442.6,715.3 444.0,700.0 445.5,683.3 447.2,665.5 448.8,647.3 450.5,629.8 452.1,613.7 453.5,600.0 454.8,588.8 455.9,579.5 457.0,571.6 458.1,564.8 459.1,558.7 460.2,552.7 461.3,547.2 462.4,542.5 463.5,538.4 464.6,534.8 465.8,531.4 467.0,528.0 468.3,524.8 469.7,522.0 471.1,519.4 472.4,516.8 473.8,514.2 475.0,511.4 476.1,508.4 477.1,505.2 478.1,502.0 479.0,498.8 480.0,495.4 481.0,492.0 482.0,488.4 483.1,484.7 484.2,480.9 485.2,477.1 486.3,473.4 487.4,470.0 488.5,466.7 489.7,463.5 490.9,460.4 492.0,457.6 493.0,455.1 494.0,453.0 494.9,451.5 495.7,450.4 496.4,449.7 497.1,449.2 497.6,448.8 498.0,448.5 503.5,447.9 505.5,448.7 507.5,450.1 509.5,452.6 511.5,456.1 513.5,460.5 515.5,466.0 517.5,476.3 519.5,488.3 521.5,498.9 523.5,512.0 525.5,524.8 527.5,536.4 529.5,546.7 531.5,555.8 533.5,565.4 535.5,576.9 537.5,589.8 539.5,604.0 541.5,617.8 543.5,631.2 545.5,642.8 547.5,652.9 549.5,662.8 551.5,672.8 553.5,682.9 555.5,692.9 557.5,703.0 559.5,713.1 560.0,715.6 565.0,741.0 570.0,766.2 575.0,791.3 580.0,816.0 585.0,840.3 590.0,864.1 595.0,887.2 600.0,909.7 605.0,931.5 610.0,952.5 615.0,972.6 620.0,991.9 625.0,1010.4 630.0,1028.0 635.0,1044.6 640.0,1060.5 645.0,1075.5 650.0,1089.7 655.0,1103.0 660.0,1115.6 665.0,1127.4 670.0,1138.5 675.0,1148.8 680.0,1158.5 685.0,1167.5 690.0,1175.9 695.0,1183.8 700.0,1191.1 705.0,1198.0 710.0,1204.4 715.0,1210.5 720.0,1215.8 725.0,1221.0 730.0,1226.0 735.0,1230.8 740.0,1235.1 745.0,1239.1 750.0,1242.9 755.0,1246.5 760.0,1249.8 765.0,1252.9 770.0,1255.7 775.0,1258.4 780.0,1260.8 785.0,1263.1 790.0,1265.1 795.0,1267.0 800.0,1268.7 805.0,1270.2 810.0,1271.7 815.0,1273.0 820.0,1274.1 825.0,1275.2 830.0,1276.2 835.0,1277.1 840.0,1277.9 845.0,1278.6 850.0,1279.2 855.0,1279.8 860.0,1280.4 865.0,1280.9 870.0,1281.3 875.0,1281.8 880.0,1282.1 885.0,1282.5 890.0,1282.8 895.0,1283.0 900.0,1283.3 905.0,1283.5 910.0,1283.7 915.0,1283.9 920.0,1284.1 925.0,1284.2 930.0,1284.3 935.0,1284.4 940.0,1284.6 945.0,1284.7 950.0,1284.8 955.0,1284.9 960.0,1285.0 965.0,1285.1 970.0,1285.2 975.0,1285.3 980.0,1285.3 985.0,1285.4 990.0,1285.5 995.0,1285.5 1100.0,1286.6 1300.0,1287.3 1600.0,1287.5 1891.0,1287.6" stroke="#B9529F"/>
<path d="M385.5,1269.0L385.9,1268.3 386.4,1267.3 387.0,1266.1 387.6,1264.8 388.3,1263.4 389.0,1262.0 389.7,1260.6 390.3,1259.1 391.0,1257.6 391.8,1255.9 392.5,1254.0 393.3,1252.0 394.1,1249.8 394.9,1247.4 395.8,1244.9 396.7,1242.2 397.6,1239.2 398.5,1236.0 399.5,1232.5 400.5,1228.8 401.5,1224.8 402.6,1220.6 403.6,1216.2 404.5,1211.5 405.3,1206.6 406.1,1201.5 406.9,1196.2 407.6,1190.6 408.3,1184.5 409.0,1178.0 409.7,1171.4 410.3,1165.0 410.8,1158.2 411.5,1150.4 412.2,1141.2 413.0,1130.0 414.0,1116.7 415.1,1101.6 416.2,1085.1 417.5,1067.5 418.7,1049.0 420.0,1030.0 421.3,1009.8 422.6,988.1 423.9,965.6 425.3,943.0 426.7,920.9 428.0,900.0 429.3,880.3 430.7,861.1 432.0,842.5 433.3,824.4 434.7,806.9 436.0,790.0 437.3,774.0 438.6,758.9 439.9,744.4 441.2,730.0 442.6,715.3 444.0,700.0 445.5,683.3 447.2,665.5 448.8,647.3 450.5,629.8 452.1,613.7 453.5,600.0 454.8,588.8 455.9,579.5 457.0,571.6 458.1,564.8 459.1,558.7 460.2,552.7 461.3,547.2 462.4,542.5 463.5,538.4 464.6,534.8 465.8,531.4 467.0,528.0 468.3,524.8 469.7,522.0 471.1,519.4 472.4,516.8 473.8,514.2 475.0,511.4 476.1,508.4 477.1,505.2 478.1,502.0 479.0,498.8 480.0,495.4 481.0,492.0 482.0,488.4 483.1,484.7 484.2,480.9 485.2,477.1 486.3,473.4 487.4,470.0 488.5,466.7 489.7,463.5 490.9,460.4 492.0,457.6 493.0,455.1 494.0,453.0 494.9,451.5 495.7,450.4 496.4,449.7 497.1,449.2 497.6,448.8 498.0,448.5 503.5,447.9 505.5,448.7 507.5,450.1 509.5,452.6 511.5,456.1 513.5,460.5 515.5,466.0 517.5,476.3 519.5,488.3 521.5,498.9 523.5,512.0 525.5,524.8 527.5,536.4 529.5,546.7 531.5,555.8 533.5,565.4 535.5,576.9 537.5,589.8 539.5,604.0 541.5,617.8 543.5,631.2 545.5,642.8 547.5,652.9 549.5,662.8 551.5,672.8 553.5,682.9 555.5,692.9 557.5,703.0 559.5,713.1 560.0,715.6 565.0,741.0 570.0,766.2 575.0,791.3 580.0,816.0 585.0,840.3 590.0,864.1 595.0,887.2 600.0,909.7 605.0,931.5 610.0,952.5 615.0,972.6 620.0,991.9 625.0,1010.4 630.0,1028.0 635.0,1044.6 640.0,1060.5 645.0,1075.5 650.0,1089.7 655.0,1103.0 660.0,1115.6 665.0,1127.4 670.0,1138.5 675.0,1148.8 680.0,1158.5 685.0,1167.5 690.0,1175.9 695.0,1183.8 700.0,1191.1 705.0,1198.0 710.0,1204.4 715.0,1210.5 720.0,1215.8 725.0,1221.0 730.0,1226.0 735.0,1230.8 740.0,1235.1 745.0,1239.1 750.0,1242.9 755.0,1246.5 760.0,1249.8 765.0,1252.9 770.0,1255.7 775.0,1258.4 780.0,1260.8 785.0,1263.1 790.0,1265.1 795.0,1267.0 800.0,1268.7 805.0,1270.2 810.0,1271.7 815.0,1273.0 820.0,1274.1 825.0,1275.2 830.0,1276.2 835.0,1277.1 840.0,1277.9 845.0,1278.6 850.0,1279.2 855.0,1279.8 860.0,1280.4 865.0,1280.9 870.0,1281.3 875.0,1281.8 880.0,1282.1 885.0,1282.5 890.0,1282.8 895.0,1283.0 900.0,1283.3 905.0,1283.5 910.0,1283.7 915.0,1283.9 920.0,1284.1 925.0,1284.2 930.0,1284.3 935.0,1284.4 940.0,1284.6 945.0,1284.7 950.0,1284.8 955.0,1284.9 960.0,1285.0 965.0,1285.1 970.0,1285.2 975.0,1285.3 980.0,1285.3 985.0,1285.4 990.0,1285.5 995.0,1285.5 1100.0,1286.6 1300.0,1287.3 1600.0,1287.5 1891.0,1287.6" stroke="#B9529F"/>
<path d="M385.5,1232.1L387.5,1236.7 389.5,1239.0 391.5,1238.5 393.5,1234.8 395.5,1228.7 397.5,1219.9 399.5,1209.7 401.5,1197.7 403.5,1184.6 405.5,1170.2 407.5,1154.7 409.5,1137.8 411.5,1118.9 413.5,1098.0 415.5,1073.2 417.5,1038.7 419.5,997.6 421.5,966.0 423.5,938.1 425.5,910.4 427.5,883.2 429.5,855.7 431.5,824.8 433.5,787.7 435.5,746.6 437.5,709.8 439.5,689.1 441.5,657.5 443.5,629.3 445.5,613.0 447.5,596.2 449.5,581.5 451.5,569.7 453.5,562.9 455.5,556.6 457.5,550.6 459.5,545.1 461.5,540.9 463.5,539.1 465.5,537.7 467.5,536.1 469.5,534.6 471.5,533.0 473.5,531.4 475.5,529.6 477.5,527.5 479.5,524.5 481.5,520.5 483.5,515.2 485.5,510.2 487.5,505.6 489.5,501.2 491.5,497.2 493.5,492.0 495.5,486.0 497.5,483.1 499.5,481.4 501.5,480.4 503.5,480.2 505.5,481.0 507.5,482.4 509.5,484.7 511.5,488.1 513.5,492.4 515.5,497.6 517.5,507.6 519.5,519.2 521.5,529.5 523.5,542.2 525.5,554.8 527.5,566.1 529.5,576.2 531.5,585.2 533.5,594.7 535.5,606.0 537.5,618.5 539.5,632.4 541.5,645.8 543.5,658.9 545.5,670.2 547.5,680.1 549.5,689.7 551.5,699.5 553.5,709.2 555.5,718.9 557.5,728.6 559.5,738.3 560.0,740.7 565.0,764.9 570.0,789.1 575.0,813.0 580.0,836.6 585.0,859.9 590.0,882.6 595.0,904.8 600.0,926.3 605.0,947.1 610.0,967.2 615.0,986.4 620.0,1004.8 625.0,1022.5 630.0,1039.3 635.0,1055.3 640.0,1070.4 645.0,1084.8 650.0,1098.4 655.0,1111.1 660.0,1123.1 665.0,1134.4 670.0,1145.0 675.0,1154.9 680.0,1164.1 685.0,1172.8 690.0,1180.8 695.0,1188.3 700.0,1195.4 705.0,1201.9 710.0,1208.0 715.0,1213.9 720.0,1219.0 725.0,1223.9 730.0,1228.7 735.0,1233.3 740.0,1237.4 745.0,1241.3 750.0,1244.9 755.0,1248.3 760.0,1251.5 765.0,1254.4 770.0,1257.1 775.0,1259.7 780.0,1262.0 785.0,1264.2 790.0,1266.1 795.0,1267.9 800.0,1269.5 805.0,1271.0 810.0,1272.4 815.0,1273.6 820.0,1274.7 825.0,1275.8 830.0,1276.7 835.0,1277.6 840.0,1278.3 845.0,1279.0 850.0,1279.6 855.0,1280.2 860.0,1280.7 865.0,1281.2 870.0,1281.6 875.0,1282.0 880.0,1282.4 885.0,1282.7 890.0,1283.0 895.0,1283.2 900.0,1283.5 905.0,1283.7 910.0,1283.9 915.0,1284.1 920.0,1284.2 925.0,1284.4 930.0,1284.5 935.0,1284.6 940.0,1284.7 945.0,1284.8 950.0,1284.9 955.0,1285.0 960.0,1285.1 965.0,1285.2 970.0,1285.3 975.0,1285.4 980.0,1285.5 985.0,1285.5 990.0,1285.6 995.0,1285.6 1100.0,1286.6 1300.0,1287.3 1600.0,1287.5 1800.0,1287.5 1807.0,1287.3 1810.3,1287.0 1811.1,1286.7 1810.8,1286.3 1810.7,1285.9 1812.0,1285.5 1814.7,1285.1 1817.6,1284.7 1820.6,1284.3 1823.8,1283.9 1826.9,1283.4 1830.0,1283.0 1833.1,1282.6 1836.2,1282.1 1839.4,1281.7 1842.4,1281.2 1845.3,1280.8 1848.0,1280.5 1850.1,1280.2 1851.7,1280.0 1853.1,1279.8 1854.7,1279.6 1856.9,1279.4 1860.0,1279.3 1864.7,1279.2 1870.7,1279.2 1877.2,1279.2 1883.7,1279.2 1889.2,1279.2 1893.0,1279.2" stroke="#E2822A"/>
<path d="M385.5,1247.8L387.5,1248.4 389.5,1246.1 391.5,1240.4 393.5,1231.3 395.5,1219.5 397.5,1203.4 399.5,1190.4 401.5,1175.9 403.5,1159.9 405.5,1142.5 407.5,1123.8 409.5,1103.1 411.5,1080.0 413.5,1054.0 415.5,1021.1 417.5,974.1 419.5,931.8 421.5,898.1 423.5,866.2 425.5,834.0 427.5,802.7 429.5,769.5 431.5,729.9 433.5,684.5 435.5,631.7 437.5,605.8 439.5,576.0 441.5,537.5 443.5,514.7 445.5,495.2 447.5,477.3 449.5,461.5 451.5,451.1 453.5,443.7 455.5,436.8 457.5,430.0 459.5,424.0 461.5,420.5 463.5,418.7 465.5,417.1 467.5,415.3 469.5,413.6 471.5,411.7 473.5,409.8 475.5,407.8 477.5,405.2 479.5,401.6 481.5,396.6 483.5,390.6 485.5,385.0 487.5,379.7 489.5,374.8 491.5,370.2 493.5,364.1 495.5,357.4 497.5,354.2 499.5,352.3 501.5,351.2 503.5,351.0 505.5,351.9 507.5,353.5 509.5,356.2 511.5,360.1 513.5,365.1 515.5,371.2 517.5,382.8 519.5,396.3 521.5,408.5 523.5,423.4 525.5,438.2 527.5,451.6 529.5,463.6 531.5,474.3 533.5,485.6 535.5,499.0 537.5,513.8 539.5,530.1 541.5,546.0 543.5,561.3 545.5,574.7 547.5,586.4 549.5,597.6 551.5,609.1 553.5,620.4 555.5,631.7 557.5,643.0 559.5,654.2 560.0,657.0 565.0,684.9 570.0,712.8 575.0,740.4 580.0,767.6 585.0,794.4 590.0,820.7 595.0,846.2 600.0,870.9 605.0,894.8 610.0,917.4 615.0,938.9 620.0,959.3 625.0,978.8 630.0,997.4 635.0,1015.0 640.0,1031.8 645.0,1047.7 650.0,1062.9 655.0,1077.3 660.0,1091.0 665.0,1104.0 670.0,1116.4 675.0,1128.0 680.0,1139.0 685.0,1149.4 690.0,1159.1 695.0,1168.1 700.0,1176.6 705.0,1184.5 710.0,1191.8 715.0,1198.9 720.0,1205.0 725.0,1211.0 730.0,1216.7 735.0,1222.2 740.0,1227.2 745.0,1231.8 750.0,1236.2 755.0,1240.2 760.0,1244.0 765.0,1247.6 770.0,1250.9 775.0,1253.9 780.0,1256.7 785.0,1259.3 790.0,1261.7 795.0,1263.8 800.0,1265.8 805.0,1267.6 810.0,1269.2 815.0,1270.7 820.0,1272.1 825.0,1273.3 830.0,1274.4 835.0,1275.4 840.0,1276.3 845.0,1277.2 850.0,1277.9 855.0,1278.6 860.0,1279.3 865.0,1279.8 870.0,1280.4 875.0,1280.8 880.0,1281.2 885.0,1281.6 890.0,1282.0 895.0,1282.3 900.0,1282.6 905.0,1282.8 910.0,1283.1 915.0,1283.3 920.0,1283.5 925.0,1283.6 930.0,1283.8 935.0,1283.9 940.0,1284.1 945.0,1284.2 950.0,1284.3 955.0,1284.4 960.0,1284.5 965.0,1284.7 970.0,1284.8 975.0,1284.9 980.0,1284.9 985.0,1285.0 990.0,1285.1 995.0,1285.2 1100.0,1286.3 1300.0,1287.2 1600.0,1287.5 1891.0,1287.5" stroke="#0F8443"/>
<path d="M385.5,1240.0L387.5,1241.2 389.5,1239.5 391.5,1234.6 393.5,1227.0 395.5,1216.0 397.5,1199.5 399.5,1186.2 401.5,1171.5 403.5,1155.5 405.5,1138.2 407.5,1119.3 409.5,1098.2 411.5,1074.7 413.5,1046.0 415.5,1004.8 417.5,962.0 419.5,929.2 421.5,899.2 423.5,868.9 425.5,839.4 427.5,809.0 429.5,773.6 431.5,731.9 433.5,682.8 435.5,652.3 437.5,627.6 439.5,591.8 441.5,565.6 443.5,547.7 445.5,530.4 447.5,515.3 449.5,503.9 451.5,497.0 453.5,490.5 455.5,484.2 457.5,478.4 459.5,474.0 461.5,471.9 463.5,470.4 465.5,468.9 467.5,467.3 469.5,465.7 471.5,463.9 473.5,462.1 475.5,460.1 477.5,457.5 479.5,453.8 481.5,448.9 483.5,443.5 485.5,438.4 487.5,433.6 489.5,429.2 491.5,425.0 493.5,419.0 495.5,413.2 497.5,410.5 499.5,408.7 501.5,407.7 503.5,407.6 505.5,408.4 507.5,409.9 509.5,412.5 511.5,416.2 513.5,420.8 515.5,426.5 517.5,437.5 519.5,450.2 521.5,461.7 523.5,475.9 525.5,489.9 527.5,502.6 529.5,514.0 531.5,524.2 533.5,535.0 535.5,547.7 537.5,561.8 539.5,577.2 541.5,592.3 543.5,606.8 545.5,619.4 547.5,630.5 549.5,641.2 551.5,652.0 553.5,662.7 555.5,673.3 557.5,683.9 559.5,694.4 560.0,697.0 565.0,723.2 570.0,749.3 575.0,775.2 580.0,800.7 585.0,825.8 590.0,850.3 595.0,874.2 600.0,897.4 605.0,919.8 610.0,941.2 615.0,961.7 620.0,981.2 625.0,999.8 630.0,1017.6 635.0,1034.4 640.0,1050.4 645.0,1065.6 650.0,1080.0 655.0,1093.6 660.0,1106.5 665.0,1118.7 670.0,1130.2 675.0,1141.0 680.0,1151.2 685.0,1160.7 690.0,1169.6 695.0,1177.9 700.0,1185.7 705.0,1192.9 710.0,1199.7 715.0,1206.1 720.0,1211.8 725.0,1217.2 730.0,1222.5 735.0,1227.5 740.0,1232.1 745.0,1236.4 750.0,1240.4 755.0,1244.1 760.0,1247.6 765.0,1250.9 770.0,1253.9 775.0,1256.7 780.0,1259.3 785.0,1261.7 790.0,1263.8 795.0,1265.8 800.0,1267.6 805.0,1269.2 810.0,1270.7 815.0,1272.1 820.0,1273.4 825.0,1274.5 830.0,1275.5 835.0,1276.5 840.0,1277.3 845.0,1278.1 850.0,1278.8 855.0,1279.4 860.0,1280.0 865.0,1280.5 870.0,1281.0 875.0,1281.4 880.0,1281.8 885.0,1282.1 890.0,1282.5 895.0,1282.7 900.0,1283.0 905.0,1283.2 910.0,1283.5 915.0,1283.7 920.0,1283.8 925.0,1284.0 930.0,1284.1 935.0,1284.2 940.0,1284.4 945.0,1284.5 950.0,1284.6 955.0,1284.7 960.0,1284.8 965.0,1284.9 970.0,1285.0 975.0,1285.1 980.0,1285.2 985.0,1285.3 990.0,1285.3 995.0,1285.4 1100.0,1286.5 1300.0,1287.3 1600.0,1287.5 1790.0,1287.5 1798.5,1287.4 1804.6,1287.3 1809.1,1287.1 1812.6,1286.9 1816.0,1286.7 1820.0,1286.5 1824.2,1286.3 1827.9,1286.1 1831.4,1285.9 1835.1,1285.7 1839.6,1285.4 1845.0,1285.2 1852.2,1284.9 1861.1,1284.7 1870.6,1284.4 1879.7,1284.1 1887.5,1283.9 1893.0,1283.7" stroke="#7A419A"/>
</g>
<g stroke-width="10.5" stroke-linecap="round">
<line x1="1213.5" y1="125.3" x2="1331" y2="125.3" stroke="#050505" stroke-linecap="butt"/>
<text x="1347.3" y="145.3" class="lg" style="fill:#050505">Blank</text>
<line x1="1215" y1="198.1" x2="1331" y2="198.1" stroke="#ED1C24"/>
<text x="1347.3" y="218.1" class="lg" style="fill:#ED1C24">Carbon tetrachloride</text>
<line x1="1215" y1="271.0" x2="1331" y2="271.0" stroke="#6ABD45"/>
<text x="1347.3" y="291.0" class="lg" style="fill:#6ABD45">Methanol</text>
<line x1="1215" y1="343.8" x2="1331" y2="343.8" stroke="#3953A4"/>
<text x="1347.3" y="363.8" class="lg" style="fill:#3953A4">Toluene</text>
<line x1="1215" y1="416.6" x2="1331" y2="416.6" stroke="#6DCBD9"/>
<text x="1347.3" y="436.6" class="lg" style="fill:#6DCBD9">Benzene</text>
<line x1="1215" y1="489.4" x2="1331" y2="489.4" stroke="#B9529F"/>
<text x="1347.3" y="509.4" class="lg" style="fill:#B9529F">Ethylbenzene</text>
<line x1="1215" y1="562.3" x2="1331" y2="562.3" stroke="#F1E81C"/>
<text x="1347.3" y="582.3" class="lg" style="fill:#F1E81C">Ethanol</text>
<line x1="1215" y1="635.1" x2="1331" y2="635.1" stroke="#7F8033"/>
<text x="1347.3" y="655.1" class="lg" style="fill:#7F8033">i-propanol</text>
<line x1="1215" y1="707.9" x2="1331" y2="707.9" stroke="#262A76"/>
<text x="1347.3" y="727.9" class="lg" style="fill:#262A76">Chloroform</text>
<line x1="1215" y1="780.8" x2="1331" y2="780.8" stroke="#7B2E8C"/>
<text x="1347.3" y="800.8" class="lg" style="fill:#7B2E8C">Acetonitrile</text>
<line x1="1215" y1="853.6" x2="1331" y2="853.6" stroke="#7F1418"/>
<text x="1347.3" y="873.6" class="lg" style="fill:#7F1418">i-butanol</text>
<line x1="1215" y1="926.4" x2="1331" y2="926.4" stroke="#0F8443"/>
<text x="1347.3" y="946.4" class="lg" style="fill:#0F8443">Dichloromethane</text>
<line x1="1215" y1="999.3" x2="1331" y2="999.3" stroke="#B9529F"/>
<text x="1347.3" y="1019.3" class="lg" style="fill:#B9529F">Dimethylformamide</text>
<line x1="1215" y1="1072.1" x2="1331" y2="1072.1" stroke="#E2822A"/>
<text x="1347.3" y="1092.1" class="lg" style="fill:#E2822A">Ethyl acetate</text>
<line x1="1215" y1="1144.9" x2="1331" y2="1144.9" stroke="#7A419A"/>
<text x="1347.3" y="1164.9" class="lg" style="fill:#2E2A78">Dimethyl carbonate</text>
<line x1="1215" y1="1217.8" x2="1331" y2="1217.8" stroke="#118481"/>
<text x="1347.3" y="1237.8" class="lg" style="fill:#118481">Acetone</text>
</g>
<text transform="translate(346.3,1307.8) scale(0.965,1)" class="yl">0</text>
<text transform="translate(346.3,1133.1) scale(0.965,1)" class="yl">1000</text>
<text transform="translate(346.3,958.4) scale(0.965,1)" class="yl">2000</text>
<text transform="translate(346.3,783.7) scale(0.965,1)" class="yl">3000</text>
<text transform="translate(346.3,608.9) scale(0.965,1)" class="yl">4000</text>
<text transform="translate(346.3,434.2) scale(0.965,1)" class="yl">5000</text>
<text transform="translate(346.3,259.5) scale(0.965,1)" class="yl">6000</text>
<text transform="translate(346.3,84.8) scale(0.965,1)" class="yl">7000</text>
<text transform="translate(384.9,1414) scale(0.972,1)" class="xl">300</text>
<text transform="translate(886.6,1414) scale(0.972,1)" class="xl">400</text>
<text transform="translate(1388.2,1414) scale(0.972,1)" class="xl">500</text>
<text transform="translate(1889.9,1414) scale(0.972,1)" class="xl">600</text>
<text x="784" y="1523.5" style="font-size:99.5px;letter-spacing:-4.5px">Wavelength(nm)</text>
<text transform="translate(146,1154) rotate(-90)" x="0" y="0" style="font-size:147px;letter-spacing:-2.8px">Intensity (a.u.)</text>
</svg>
</body></html>
